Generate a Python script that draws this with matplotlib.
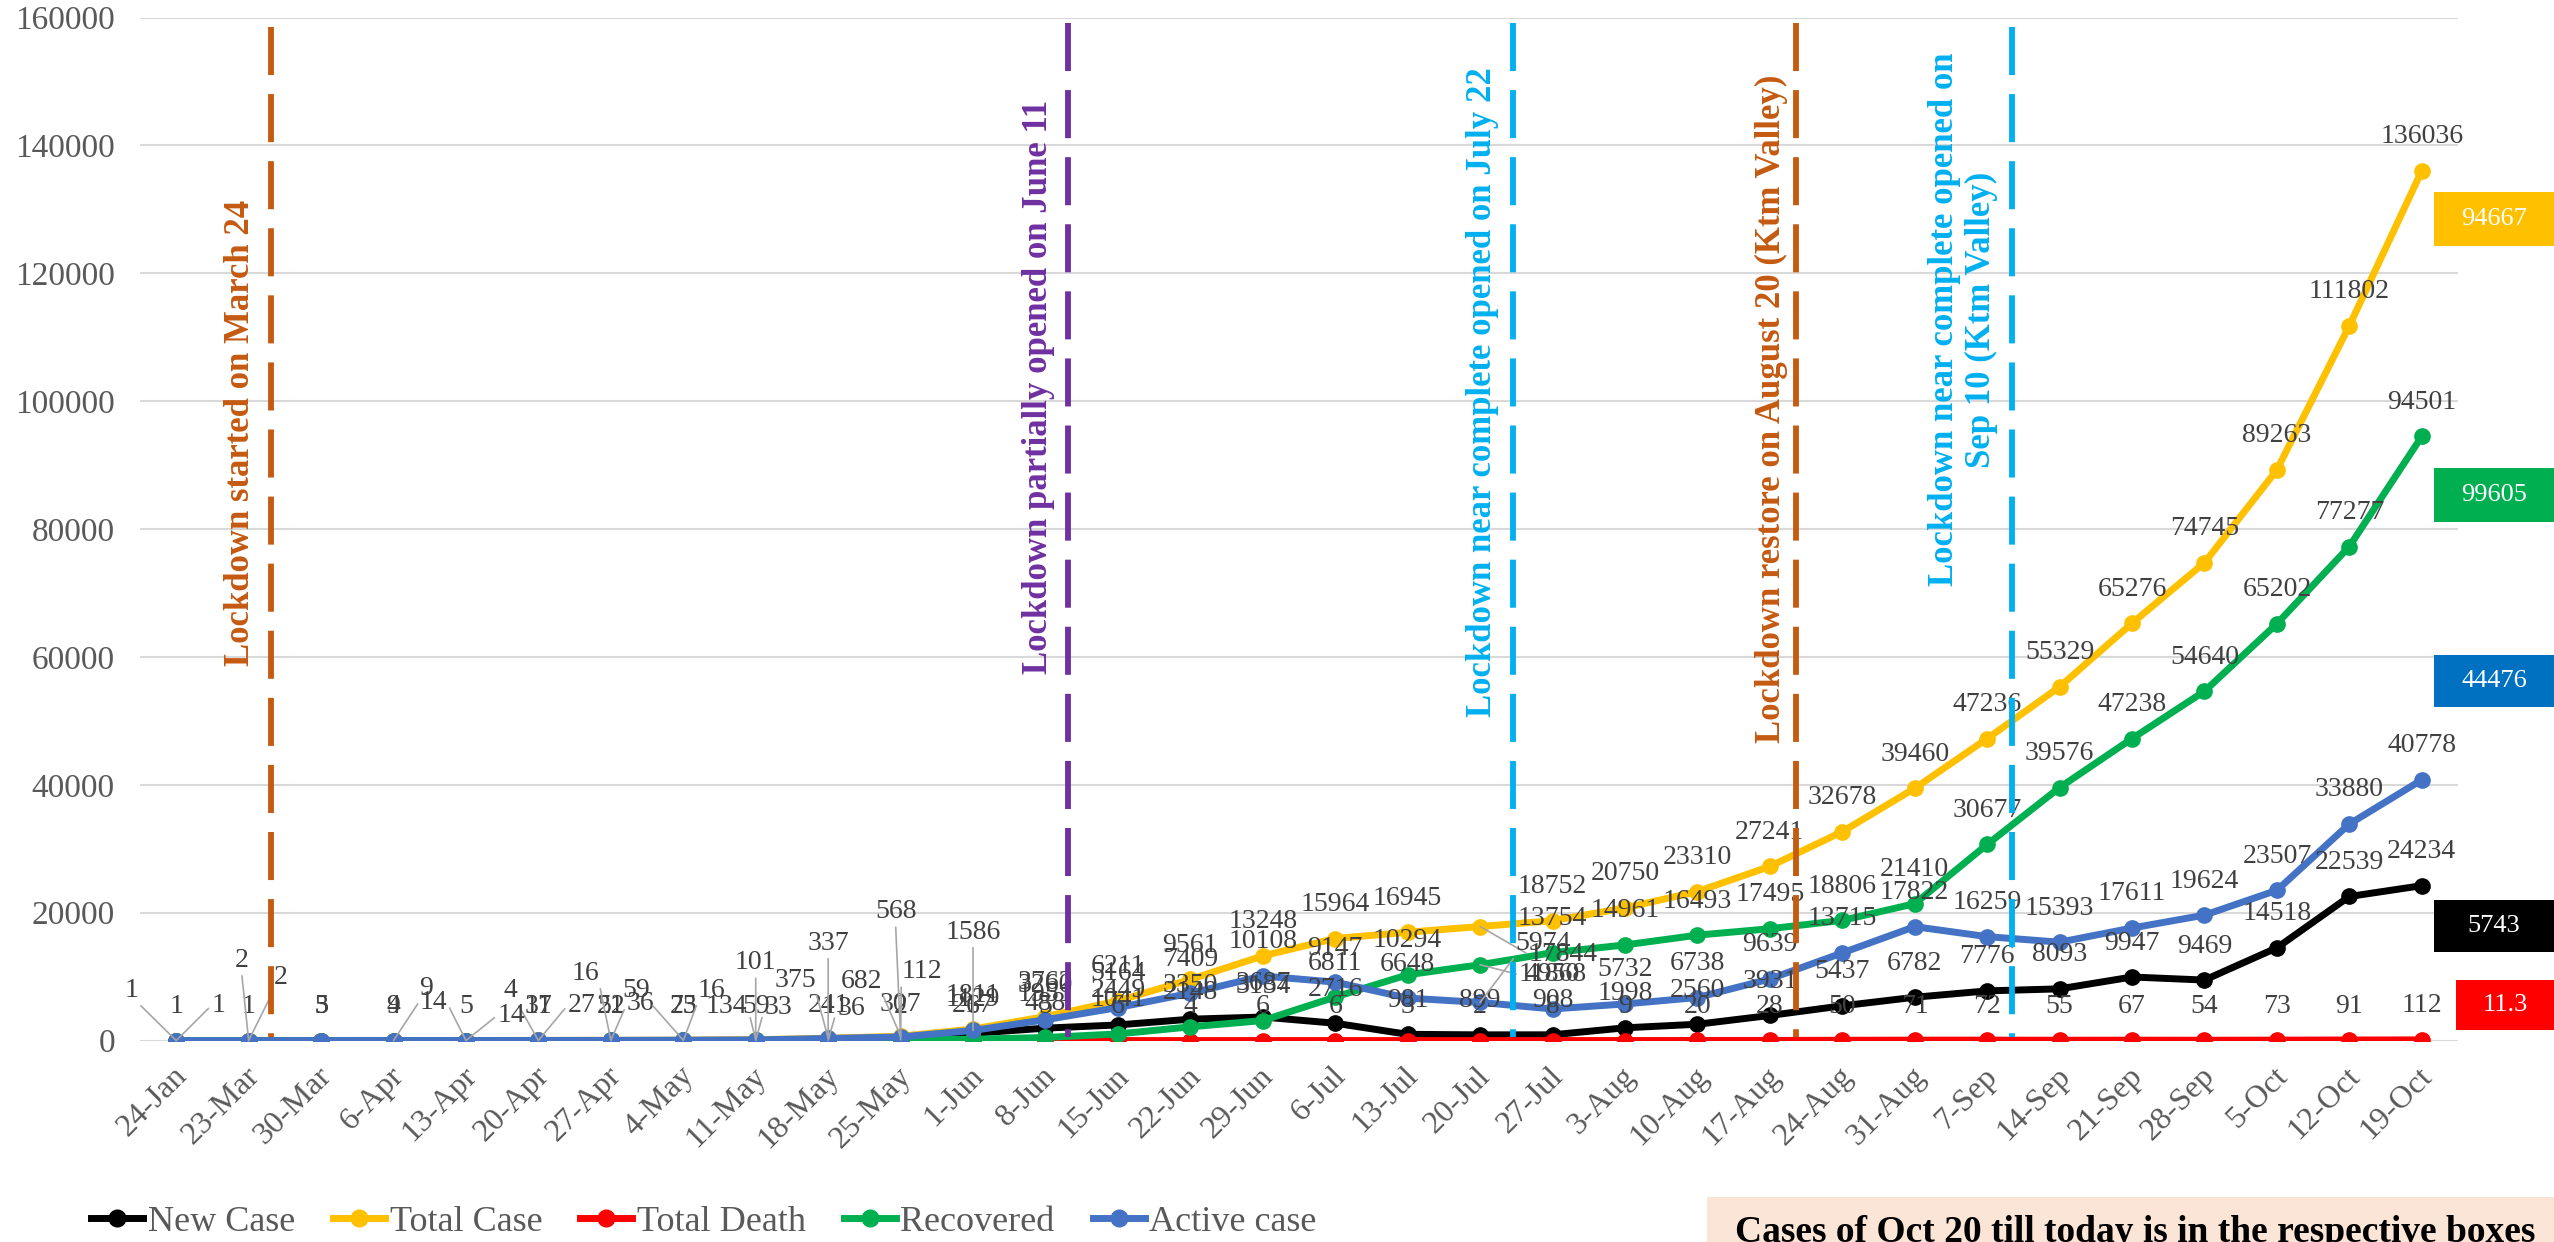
import matplotlib
matplotlib.use("Agg")
import matplotlib.pyplot as plt
from matplotlib.lines import Line2D
from matplotlib.transforms import ScaledTranslation
import matplotlib.patches as mpatches

plt.rcParams['font.family'] = ['Liberation Serif', 'DejaVu Serif']
plt.rcParams['lines.scale_dashes'] = False

# ---------------- data ----------------
dates = ["24-Jan", "23-Mar", "30-Mar", "6-Apr", "13-Apr", "20-Apr", "27-Apr", "4-May",
         "11-May", "18-May", "25-May", "1-Jun", "8-Jun", "15-Jun", "22-Jun", "29-Jun",
         "6-Jul", "13-Jul", "20-Jul", "27-Jul", "3-Aug", "10-Aug", "17-Aug", "24-Aug",
         "31-Aug", "7-Sep", "14-Sep", "21-Sep", "28-Sep", "5-Oct", "12-Oct", "19-Oct"]

new_case = [1, 1, 3, 4, 5, 17, 21, 23, 59, 241, 307, 1129, 1951, 2449, 3350, 3687,
            2716, 981, 899, 908, 1998, 2560, 3931, 5437, 6782, 7776, 8093, 9947,
            9469, 14518, 22539, 24234]
total_case = [1, 2, 5, 9, 14, 31, 52, 75, 134, 375, 682, 1811, 3762, 6211, 9561, 13248,
              15964, 16945, 17844, 18752, 20750, 23310, 27241, 32678, 39460, 47236,
              55329, 65276, 74745, 89263, 111802, 136036]
total_death = [0, 0, 0, 0, 0, 0, 0, 0, 0, 1, 2, 6, 5, 6, 4, 6,
               6, 3, 2, 8, 9, 20, 28, 50, 71, 72, 55, 67, 54, 73, 91, 112]
recovered = [0, 0, 0, 0, 0, 4, 16, 16, 33, 36, 112, 217, 488, 1041, 2148, 3134,
             6811, 10294, 11868, 13754, 14961, 16493, 17495, 18806, 21410, 30677,
             39576, 47238, 54640, 65202, 77277, 94501]
active_case = [1, 2, 5, 9, 14, 27, 36, 59, 101, 337, 568, 1586, 3260, 5164, 7409, 10108,
               9147, 6648, 5974, 4950, 5732, 6738, 9639, 13715, 17822, 16259, 15393,
               17611, 19624, 23507, 33880, 40778]

series_names = ["New Case", "Total Case", "Total Death", "Recovered", "Active case"]
series_values = [new_case, total_case, total_death, recovered, active_case]
series_colors = ["#000000", "#FFC000", "#FF0000", "#00B050", "#4472C4"]

y_ticks = [0, 20000, 40000, 60000, 80000, 100000, 120000, 140000, 160000]

# event lines (category position) and their annotations
event_pos = [1.31, 12.31, 18.46, 22.36, 25.34]
event_colors = ["#C55A11", "#7030A0", "#00B0F0", "#C55A11", "#00B0F0"]
event_texts = ["Lockdown started on March 24",
               "Lockdown partially opened on June 11",
               "Lockdown near complete opened on July 22",
               "Lockdown restore on August 20 (Ktm Valley)",
               "Lockdown near complete opened on\nSep 10 (Ktm Valley)"]
event_text_x = [0.89, 11.90, 18.04, 22.02, 24.67]
event_text_y = [0.594, 0.639, 0.634, 0.618, 0.705]
event_top = [0.991, 0.995, 0.995, 0.995, 0.991]

box_values = ["94667", "99605", "44476", "5743", "11.3"]
box_colors = ["#FFC000", "#00B050", "#0070C0", "#000000", "#FF0000"]
box_pix = [(2434, 192, 246), (2434, 468, 522), (2434, 655, 707), (2434, 900, 952), (2456, 980, 1030)]

note_text = "Cases of Oct 20 till today is in the respective boxes"

# label offsets (pixels) for the crowded early labels: (series, index) -> (dx, dy)
label_offsets = {
    ("Total Case", 0): (-45, 50), ("Active case", 0): (42, 35),
    ("Total Case", 1): (-7, 80), ("Active case", 1): (32, 63),
    ("Active case", 3): (33, 52),
    ("Total Case", 4): (-33, 38), ("Active case", 4): (45, 25),
    ("Recovered", 5): (-28, 50), ("Active case", 5): (43, 35),
    ("Recovered", 6): (-25, 67), ("Active case", 6): (30, 37),
    ("Active case", 7): (-47, 50), ("Recovered", 7): (28, 50),
    ("Total Case", 8): (-29, 33), ("Recovered", 8): (23, 33), ("Active case", 8): (0, 77),
    ("Total Case", 9): (-33, 58), ("Recovered", 9): (23, 32), ("Active case", 9): (0, 95),
    ("Total Case", 10): (-39, 55), ("Recovered", 10): (21, 68), ("Active case", 10): (-5, 125),
    ("Active case", 11): (0, 98),
    ("Total Case", 18): (83, -28), ("Recovered", 18): (73, -10), ("Active case", 18): (63, 59),
}

# ---------------- figure ----------------
W, H = 2554, 1242
fig = plt.figure(figsize=(W / 100, H / 100), dpi=100)
ax_left, ax_right, ax_top, ax_bottom = 140, 2458, 17.6, 1040.6
ax = fig.add_axes([ax_left / W, 1 - ax_bottom / H, (ax_right - ax_left) / W, (ax_bottom - ax_top) / H])

x = list(range(len(dates)))
for name, vals, col in zip(series_names, series_values, series_colors):
    ax.plot(x, vals, color=col, lw=5.0, marker='o', markersize=11, zorder=3, label=name,
            solid_capstyle='round', solid_joinstyle='round')

ax.set_xlim(-0.5, len(dates) - 0.5)
ax.set_ylim(y_ticks[0], y_ticks[-1])
ax.set_yticks(y_ticks)
ax.set_yticklabels([str(t) for t in y_ticks], fontsize=24, color="#595959")
ax.set_xticks(x)
ax.set_xticklabels(dates, fontsize=23, color="#595959", rotation=45, ha='right', va='top',
                   rotation_mode='anchor')
ax.tick_params(axis='y', length=0, pad=18)
ax.tick_params(axis='x', length=0, pad=15)
off = ScaledTranslation(-4 / 100, 0, fig.dpi_scale_trans)
for lab in ax.get_xticklabels():
    lab.set_transform(lab.get_transform() + off)
for sp in ax.spines.values():
    sp.set_visible(False)
ax.grid(axis='y', color='#D9D9D9', lw=1.5)
ax.set_axisbelow(True)

# event lines & texts
btrans = ax.get_xaxis_transform()
for pos, col, txt, tx, ty, top in zip(event_pos, event_colors, event_texts, event_text_x, event_text_y, event_top):
    ax.plot([pos, pos], [top, 0.004], transform=btrans, color=col, lw=4.2,
            dashes=(34.6, 13.7), zorder=7, clip_on=False)
    ax.text(tx, ty, txt, transform=btrans, rotation=90, ha='center', va='center',
            fontsize=25, fontweight='bold', color=col, linespacing=1.15,
            multialignment='center', zorder=2)

# data labels
for name, vals in zip(series_names, series_values):
    for i, v in enumerate(vals):
        if v == 0:
            continue
        if (name, i) in label_offsets:
            dx, dy = label_offsets[(name, i)]
            if abs(dx) > 15:
                rel = (1.0 if dx < 0 else 0.0, 0.5 if dy < 40 else 0.0)
            else:
                rel = (0.5, 0.0)
            ax.annotate(str(v), xy=(i, v), xytext=(dx, dy), textcoords='offset pixels',
                        ha='center', va='center', fontsize=20, color='#404040', zorder=6,
                        annotation_clip=False,
                        arrowprops=dict(arrowstyle='-', color='#A6A6A6', lw=1.2,
                                        shrinkA=0, shrinkB=0, relpos=rel))
        else:
            ax.annotate(str(v), xy=(i, v), xytext=(0, 34), textcoords='offset pixels',
                        ha='center', va='center', fontsize=20, color='#404040', zorder=6,
                        annotation_clip=False)

# legend
handles = [Line2D([0], [0], color=c, lw=5.0, marker='o', markersize=12) for c in series_colors]
leg = fig.legend(handles, series_names, loc='center left', bbox_to_anchor=(91 / W, 1 - 1222 / H),
                 ncol=5, frameon=False, fontsize=26, handlelength=1.45, handletextpad=0.12,
                 columnspacing=1.05, borderpad=0, borderaxespad=0)
for t in leg.get_texts():
    t.set_color('#595959')

# right-side boxes
for val, col, (x0, y0, y1) in zip(box_values, box_colors, box_pix):
    fig.patches.append(mpatches.Rectangle((x0 / W, 1 - y1 / H), (W - x0) / W, (y1 - y0) / H,
                                          transform=fig.transFigure, facecolor=col,
                                          edgecolor='none', zorder=5))
    fig.text((x0 + W) / 2 / W, 1 - (y0 + y1) / 2 / H, val, ha='center', va='center',
             color='white', fontsize=19, zorder=6)

# bottom note
fig.patches.append(mpatches.Rectangle((1707 / W, 0), (W - 1707) / W, 45 / H,
                                      transform=fig.transFigure, facecolor='#FBE5D6',
                                      edgecolor='none', zorder=1))
fig.text(1735 / W, 0, note_text, ha='left', va='baseline', fontsize=27,
         fontweight='bold', color='black', zorder=2)

fig.savefig("out.png", dpi=100)
